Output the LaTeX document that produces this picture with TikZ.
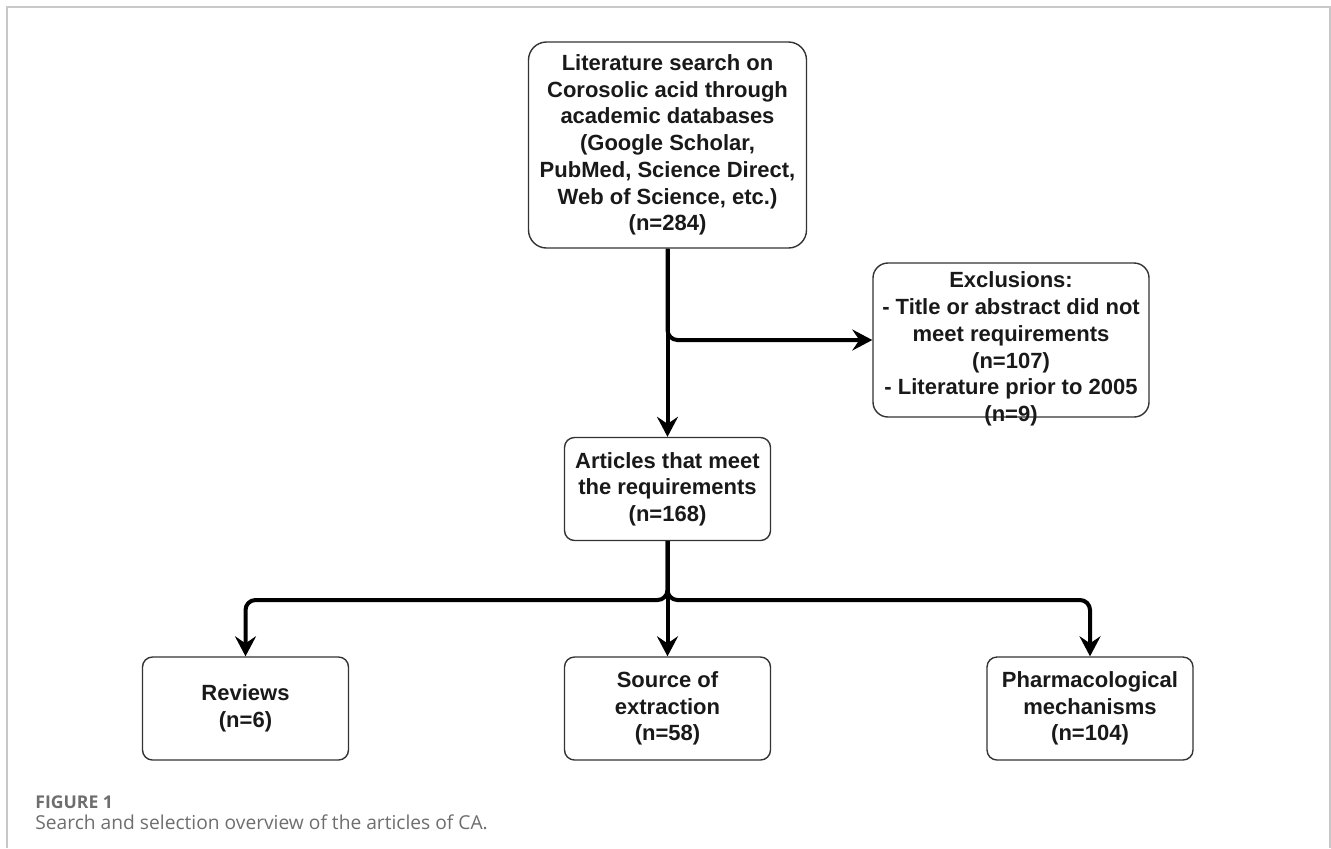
\documentclass[tikz,border=0pt]{standalone}
\usepackage{fontspec}
\setmainfont{Liberation Sans}
\newfontfamily\capfont{Open Sans}
\usepackage{xcolor}
\usetikzlibrary{arrows.meta,positioning}

\begin{document}
\begin{tikzpicture}[x=0.5pt, y=-0.5pt,
    box/.style={draw=boxline, line width=0.7pt, rounded corners=5pt, align=center,
        inner sep=0pt, text=black!90, font=\fontsize{11}{13.35}\selectfont\bfseries},
    smallbox/.style={box, minimum width=103pt, minimum height=51.5pt},
    flow/.style={line width=2pt, rounded corners=5pt,
        -{Stealth[length=10pt, width=10.5pt, inset=3.5pt]}},
    capline/.style={anchor=base west, inner sep=0pt, text=capgray}]

% Define colors
\definecolor{boxline}{RGB}{51,51,51}
\definecolor{capgray}{RGB}{110,110,110}
\definecolor{framegray}{RGB}{200,200,200}

\useasboundingbox (0,0) rectangle (1331,848);

% Frame
\draw[framegray, line width=0.8pt] (7,848) -- (7,7) -- (1330,7) -- (1330,848);

% Boxes
\node[box, rounded corners=9pt, minimum width=139pt, minimum height=103pt] (search) at (667.5,145)
    {Literature search on\\Corosolic acid through\\academic databases\\(Google Scholar,\\PubMed, Science Direct,\\Web of Science, etc.)\\(n=284)};
\node[box, rounded corners=7.5pt, minimum width=138pt, minimum height=77pt,
    label={[box, draw=none, yshift=-4.5pt]center:{Exclusions:\\- Title or abstract did not\\meet requirements\\(n=107)\\- Literature prior to 2005\\(n=9)}}] (excl) at (1011,340) {};
\node[smallbox] (meet) at (667.5,489) {Articles that meet\\the requirements\\(n=168)};
\node[smallbox] (reviews) at (245.5,708.5) {Reviews\\(n=6)};
\node[smallbox] (source) at (667.5,708.5) {Source of\\extraction\\(n=58)};
\node[smallbox] (pharm) at (1090,708.5) {Pharmacological\\mechanisms\\(n=104)};

% Arrows
\coordinate (split) at (667.5,600);
\draw[flow] (search.south) -- (meet.north);
\draw[flow] (search.south) |- (excl.west);
\draw[flow] (meet.south) -- (source.north);
\draw[flow] (meet.south) -- (split) -| (reviews.north);
\draw[flow] (meet.south) -- (split) -| (pharm.north);

% Caption
\node[capline, font=\capfont\fontsize{8.8}{10}\selectfont\bfseries] (fignum) at (35,808) {FIGURE 1};
\node[capline, font=\capfont\fontsize{9.6}{12}\selectfont] (caption) at (35,829) {Search and selection overview of the articles of CA.};

\end{tikzpicture}
\end{document}
